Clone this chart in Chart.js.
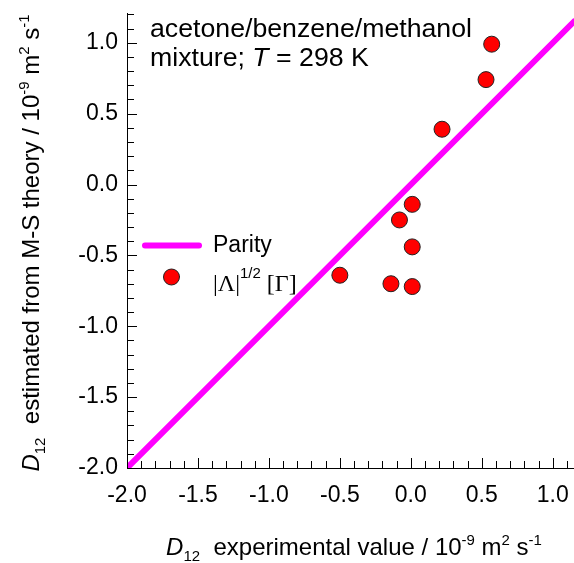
<!DOCTYPE html>
<html lang="en">
<head>
    <meta charset="utf-8">
    <title>D12 parity plot</title>
    <script src="https://cdn.jsdelivr.net/npm/chart.js@4.4.0/dist/chart.umd.js"></script>
    <style>
        html, body { margin: 0; padding: 0; background: #fff; }
        #wrap { width: 574px; height: 563px; }
    </style>
</head>
<body>
    <div id="wrap"><canvas id="parityChart" width="574" height="563"></canvas></div>

    <script>
        // Data
        const expD12 = [0.57, 0.53, 0.22, 0.01, -0.08, 0.01, -0.14, 0.01, -0.50];
        const estD12 = [0.99, 0.74, 0.39, -0.14, -0.25, -0.44, -0.70, -0.72, -0.64];
        const parityX = [-2.0, 1.15];
        const xTicks = [-2.0, -1.5, -1.0, -0.5, 0.0, 0.5, 1.0];
        const yTicks = [-2.0, -1.5, -1.0, -0.5, 0.0, 0.5, 1.0];
        const xRange = [-2.0, 1.15];
        const yRange = [-2.0, 1.21];
        const minorStep = 0.1;

        const SANS = '"Liberation Sans", Arial, sans-serif';
        const SERIF = '"Liberation Serif", "Times New Roman", serif';

        // draw a run of text pieces with their own font / vertical shift
        function drawRich(ctx, parts, x, y, align) {
            let total = 0;
            parts.forEach(p => { ctx.font = p.font; p.w = ctx.measureText(p.t).width; total += p.w; });
            let cx = align === 'center' ? x - total / 2 : x;
            ctx.textAlign = 'left';
            ctx.textBaseline = 'alphabetic';
            parts.forEach(p => {
                ctx.font = p.font;
                ctx.fillText(p.t, cx, y + (p.dy || 0));
                cx += p.w;
            });
        }

        // no extra room for edge labels, the plot area is fixed
        function noEdgePad(s) {
            s.paddingTop = 0; s.paddingBottom = 0;
            s.paddingLeft = 0; s.paddingRight = 0;
        }

        // stretch the plot area to the right edge of the canvas
        const fullWidth = {
            id: 'fullWidth',
            afterLayout(chart) {
                const xs = chart.scales.x;
                chart.chartArea.right = chart.width;
                chart.chartArea.width = chart.chartArea.right - chart.chartArea.left;
                xs.right = chart.width;
                xs.width = xs.right - xs.left;
                xs.configure();
            }
        };

        const decorations = {
            id: 'decorations',
            afterDraw(chart) {
                const ctx = chart.ctx;
                const xs = chart.scales.x, ys = chart.scales.y;
                const area = chart.chartArea;
                ctx.save();

                // inward ticks
                ctx.lineWidth = 1;
                ctx.strokeStyle = '#000';
                const nX = Math.round((xRange[1] - xRange[0]) / minorStep);
                for (let i = 0; i <= nX; i++) {
                    const v = xRange[0] + i * minorStep;
                    if (v > xRange[1] + 1e-6) break;
                    const major = Math.abs(v * 2 - Math.round(v * 2)) < 1e-6;
                    const px = Math.round(xs.getPixelForValue(v)) + 0.5;
                    ctx.beginPath();
                    ctx.moveTo(px, area.bottom);
                    ctx.lineTo(px, area.bottom - (major ? 10 : 7));
                    ctx.stroke();
                }
                const nY = Math.round((yRange[1] - yRange[0]) / minorStep);
                for (let i = 0; i <= nY; i++) {
                    const v = yRange[0] + i * minorStep;
                    if (v > yRange[1] + 1e-6) break;
                    const major = Math.abs(v * 2 - Math.round(v * 2)) < 1e-6;
                    const py = Math.round(ys.getPixelForValue(v)) + 0.5;
                    ctx.beginPath();
                    ctx.moveTo(area.left, py);
                    ctx.lineTo(area.left + (major ? 10 : 7), py);
                    ctx.stroke();
                }

                ctx.fillStyle = '#000';
                const big = '24px ' + SANS;
                const small = '15px ' + SANS;

                // x axis title
                drawRich(ctx, [
                    { t: 'D', font: 'italic ' + big },
                    { t: '12', font: small, dy: 6 },
                    { t: '  experimental value / 10', font: big },
                    { t: '-9', font: small, dy: -10 },
                    { t: ' m', font: big },
                    { t: '2', font: small, dy: -10 },
                    { t: ' s', font: big },
                    { t: '-1', font: small, dy: -10 }
                ], 354, 555, 'center');

                // y axis title
                ctx.save();
                ctx.translate(38.5, 243);
                ctx.rotate(-Math.PI / 2);
                drawRich(ctx, [
                    { t: 'D', font: 'italic ' + big },
                    { t: '12', font: small, dy: 6 },
                    { t: '  estimated from M-S theory / 10', font: big },
                    { t: '-9', font: small, dy: -10 },
                    { t: ' m', font: big },
                    { t: '2', font: small, dy: -10 },
                    { t: ' s', font: big },
                    { t: '-1', font: small, dy: -10 }
                ], 0, 0, 'center');
                ctx.restore();

                // note
                const note = '26.7px ' + SANS;
                drawRich(ctx, [{ t: 'acetone/benzene/methanol', font: note }], 150, 37, 'left');
                drawRich(ctx, [
                    { t: 'mixture; ', font: note },
                    { t: 'T', font: 'italic ' + note },
                    { t: ' = 298 K', font: note }
                ], 150, 66, 'left');

                // legend
                const lineDs = chart.data.datasets[1];
                const ptDs = chart.data.datasets[0];
                ctx.strokeStyle = lineDs.borderColor;
                ctx.lineWidth = lineDs.borderWidth;
                ctx.lineCap = 'round';
                ctx.beginPath();
                ctx.moveTo(145, 245.5);
                ctx.lineTo(199, 245.5);
                ctx.stroke();
                drawRich(ctx, [{ t: 'Parity', font: '23px ' + SANS }], 213, 252, 'left');

                ctx.beginPath();
                ctx.arc(171.5, 277, ptDs.pointRadius, 0, Math.PI * 2);
                ctx.fillStyle = ptDs.backgroundColor;
                ctx.fill();
                ctx.lineWidth = ptDs.borderWidth;
                ctx.strokeStyle = ptDs.borderColor;
                ctx.stroke();
                ctx.fillStyle = '#000';
                drawRich(ctx, [
                    { t: '|\u039B|', font: '24px ' + SERIF },
                    { t: '1/2', font: '15px ' + SANS, dy: -13 },
                    { t: ' [\u0393]', font: '24px ' + SERIF }
                ], 213, 291, 'left');

                ctx.restore();
            }
        };

        const ctx = document.getElementById('parityChart').getContext('2d');
        const chart = new Chart(ctx, {
            type: 'scatter',
            data: {
                datasets: [
                    {
                        label: '|Λ|^1/2 [Γ]',
                        data: expD12.map((x, i) => ({ x: x, y: estD12[i] })),
                        backgroundColor: '#ff0000',
                        borderColor: '#222',
                        borderWidth: 1,
                        pointRadius: 8,
                        order: 0
                    },
                    {
                        label: 'Parity',
                        type: 'line',
                        data: parityX.map(x => ({ x: x, y: x })),
                        borderColor: '#ff00ff',
                        borderWidth: 6,
                        borderCapStyle: 'round',
                        pointRadius: 0,
                        fill: false,
                        order: 1
                    }
                ]
            },
            options: {
                responsive: false,
                animation: false,
                events: [],
                layout: { padding: { top: 13, right: 0, bottom: 0, left: 0 } },
                plugins: { legend: { display: false }, tooltip: { enabled: false } },
                scales: {
                    x: {
                        type: 'linear',
                        min: xRange[0],
                        max: xRange[1],
                        afterBuildTicks: s => { s.ticks = xTicks.map(v => ({ value: v })); },
                        afterFit: s => { s.height = 95; noEdgePad(s); },
                        grid: { display: false, drawTicks: false },
                        border: { display: true, color: '#000', width: 1 },
                        ticks: {
                            padding: 14,
                            color: '#000',
                            font: { family: SANS, size: 23 },
                            maxRotation: 0,
                            callback: v => v.toFixed(1)
                        }
                    },
                    y: {
                        type: 'linear',
                        min: yRange[0],
                        max: yRange[1],
                        afterBuildTicks: s => { s.ticks = yTicks.map(v => ({ value: v })); },
                        afterFit: s => { s.width = 127; noEdgePad(s); },
                        grid: { display: false, drawTicks: false },
                        border: { display: true, color: '#000', width: 1 },
                        ticks: {
                            padding: 9,
                            color: '#000',
                            font: { family: SANS, size: 23 },
                            callback: v => v.toFixed(1)
                        }
                    }
                }
            },
            plugins: [fullWidth, decorations]
        });
    </script>
</body>
</html>
